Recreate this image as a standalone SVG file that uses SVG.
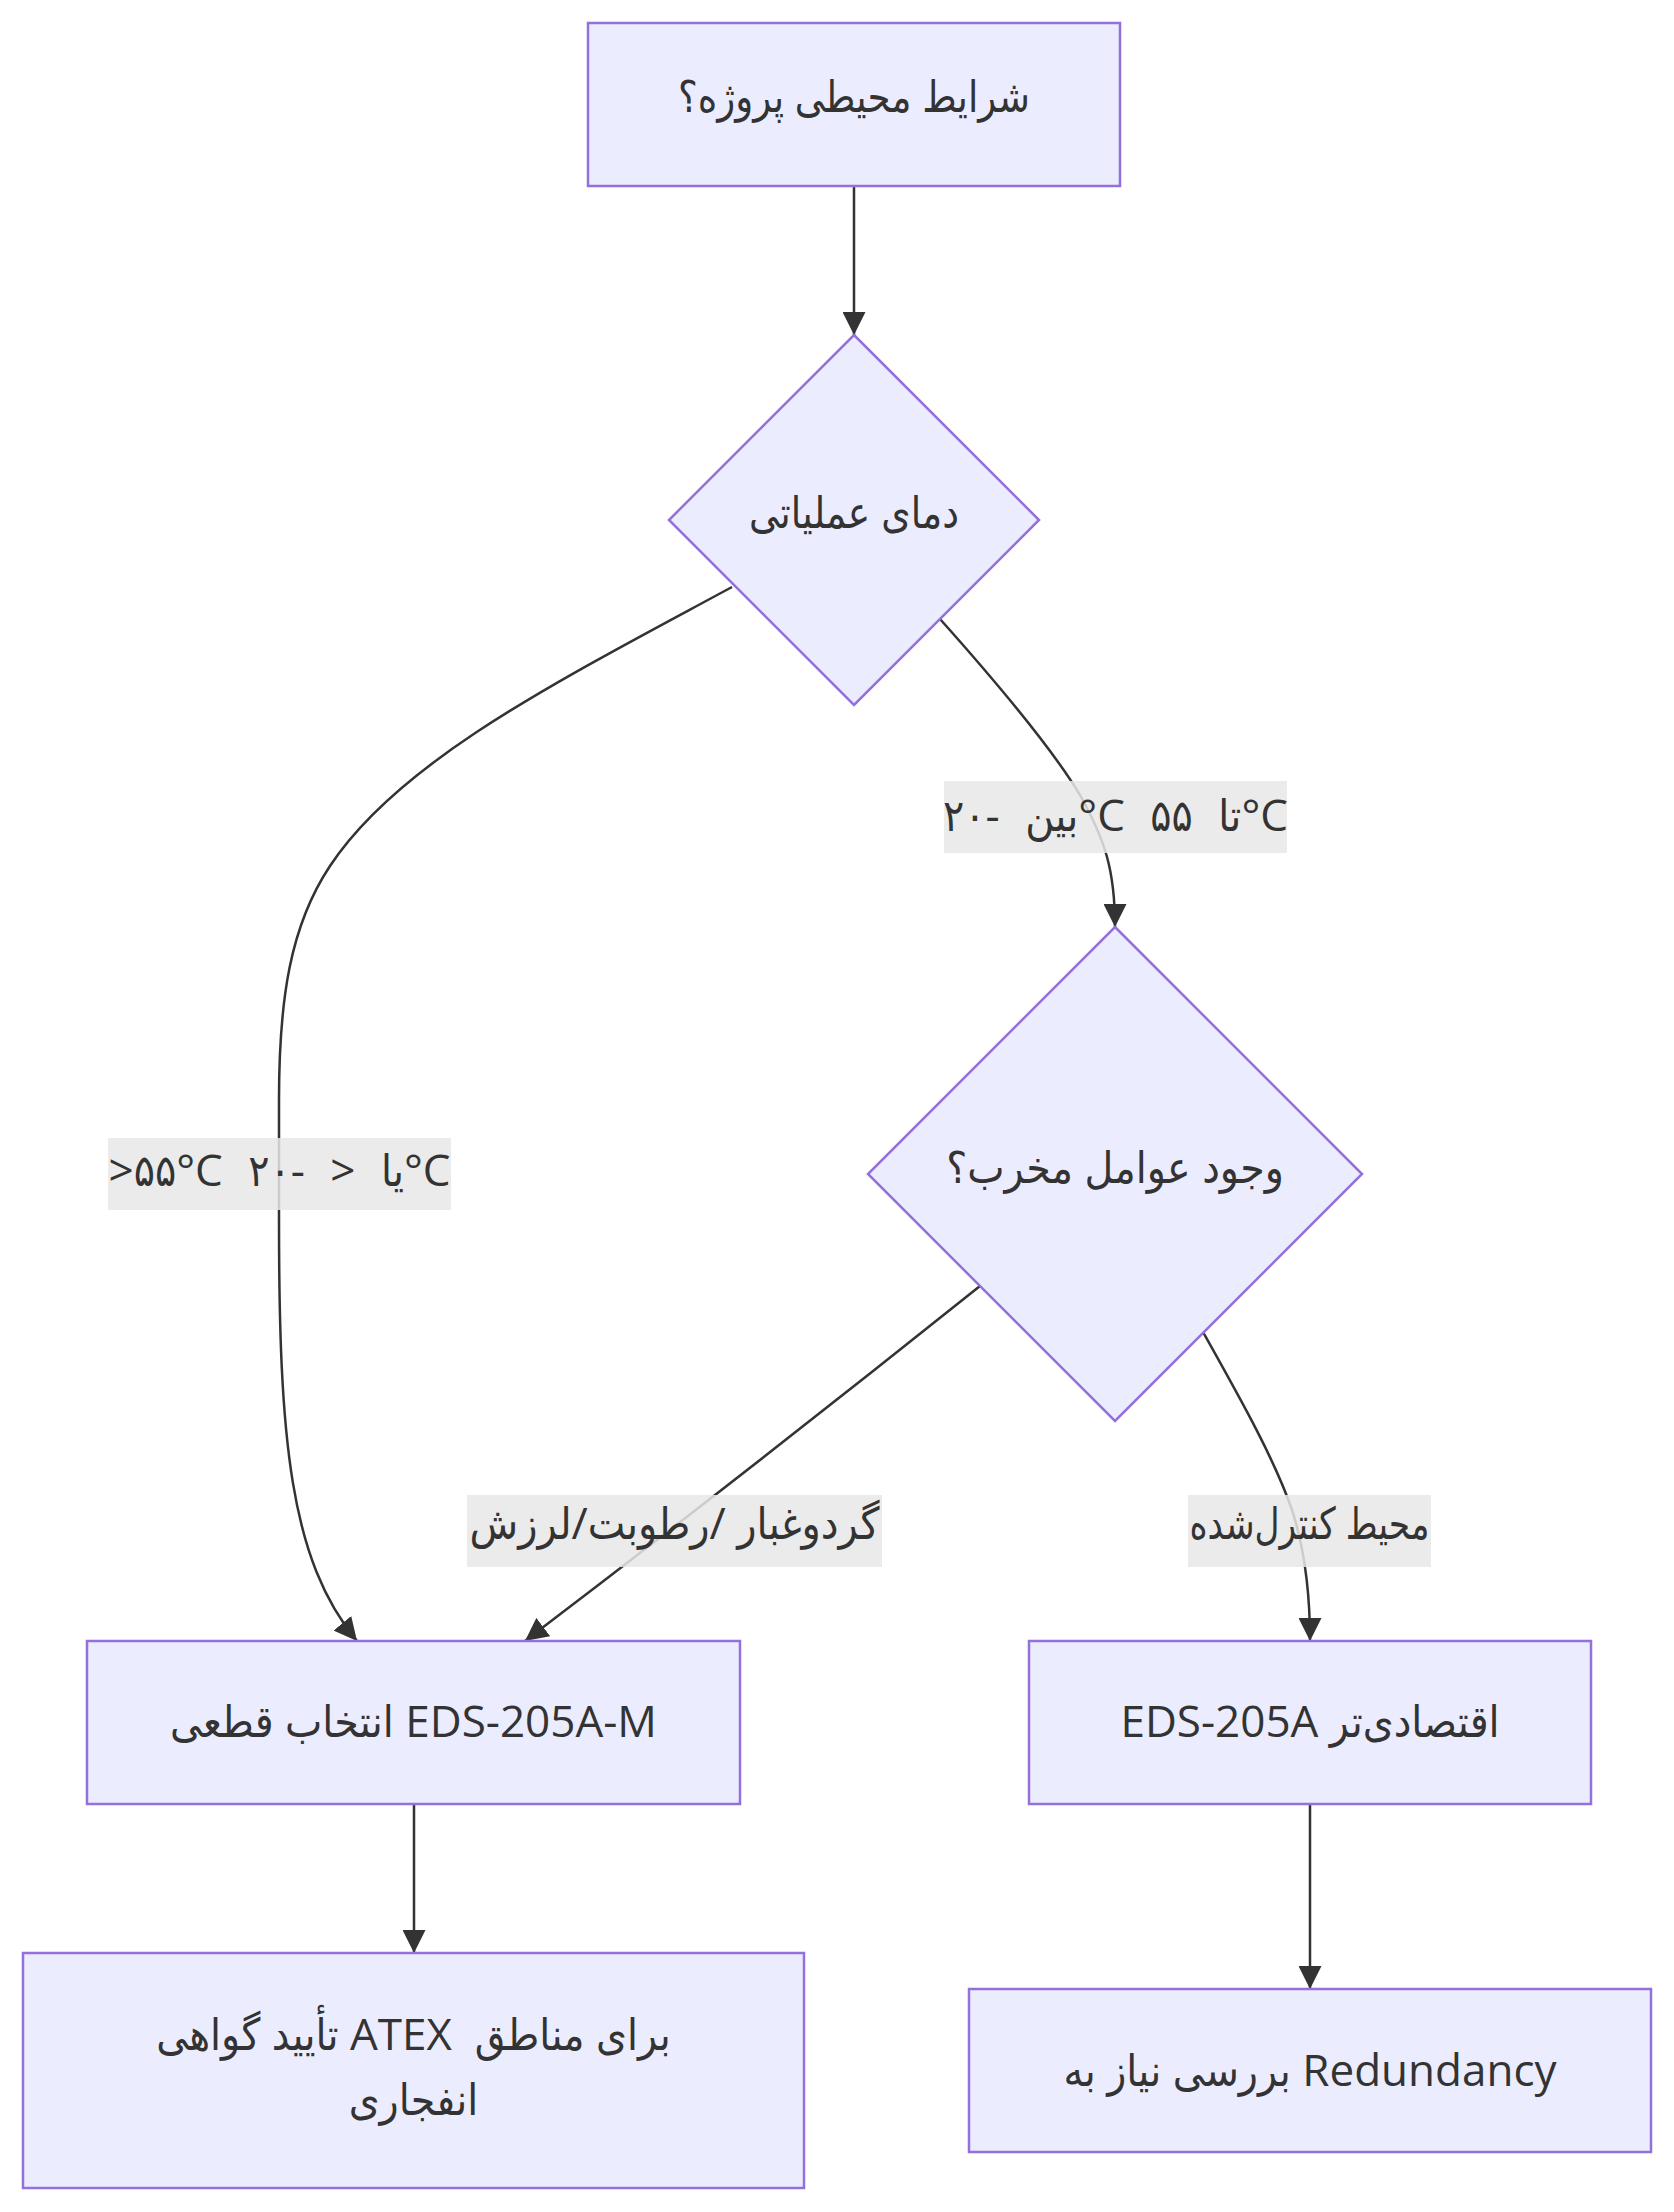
<svg xmlns="http://www.w3.org/2000/svg" width="1674" height="2212" viewBox="0 0 1674 2212">
<style>
.node rect,.node polygon{fill:#ECECFF;stroke:#9370DB;stroke-width:2.5}
.edge{fill:none;stroke:#333333;stroke-width:2.5;marker-end:url(#arrow)}
.lbg{fill:#e8e8e8;fill-opacity:0.85}
text{font-family:"Open Sans","DejaVu Sans Condensed","DejaVu Sans",sans-serif;font-size:44px;fill:#333333;text-anchor:middle}
.ws{word-spacing:14px}
</style>
<defs>
<marker id="arrow" viewBox="0 0 10 10" refX="10" refY="5" markerUnits="userSpaceOnUse" markerWidth="23" markerHeight="23" orient="auto">
<path d="M0,0 L10,5 L0,10 z" fill="#333333"/>
</marker>
</defs>
<rect width="1674" height="2212" fill="#ffffff"/>
<g id="connectors">
<path class="edge" d="M854,186 L854,335"/>
<path class="edge" d="M732,587 C560,680 400,760 330,866 C290,926 279,1000 279,1100 L279,1220 C279,1440 290,1560 357,1641"/>
<path class="edge" d="M940,619 C990,675 1050,745 1080,795 C1105,840 1115,870 1115,927"/>
<path class="edge" d="M980,1286 C850,1390 700,1508 525,1641"/>
<path class="edge" d="M1203,1332 C1240,1398 1275,1460 1292,1510 C1305,1550 1310,1590 1310,1641"/>
<path class="edge" d="M414,1804 L414,1953"/>
<path class="edge" d="M1310,1804 L1310,1989"/>
</g>
<g id="edge-labels">
<g id="label-extreme">
<rect class="lbg" x="108" y="1138" width="343" height="72"/>
<text class="ws" x="279.5" y="1186">&gt;۵۵°C یا &lt; -۲۰°C</text>
</g>
<g id="label-normal">
<rect class="lbg" x="944" y="781" width="343" height="72"/>
<text class="ws" x="1115.5" y="831">بین -۲۰°C تا ۵۵°C</text>
</g>
<g id="label-harsh">
<rect class="lbg" x="467" y="1495" width="415" height="72"/>
<text x="674.5" y="1539" textLength="410" lengthAdjust="spacingAndGlyphs">گردوغبار /رطوبت/لرزش</text>
</g>
<g id="label-controlled">
<rect class="lbg" x="1188" y="1495" width="243" height="72"/>
<text x="1309.5" y="1539" textLength="240" lengthAdjust="spacingAndGlyphs">محیط کنترل‌شده</text>
</g>
</g>
<g id="node-start" class="node">
<rect x="588" y="23" width="532" height="163"/>
<text x="854" y="112" textLength="352" lengthAdjust="spacingAndGlyphs">شرایط محیطی پروژه؟</text>
</g>
<g id="node-temp" class="node">
<polygon points="854,335 1039,520 854,705 669,520"/>
<text x="854" y="528" textLength="210" lengthAdjust="spacingAndGlyphs">دمای عملیاتی</text>
</g>
<g id="node-harsh" class="node">
<polygon points="1115,927 1362,1174 1115,1421 868,1174"/>
<text x="1115" y="1183">وجود عوامل مخرب؟</text>
</g>
<g id="node-eds205am" class="node">
<rect x="87" y="1641" width="653" height="163"/>
<text x="413.5" y="1737">انتخاب قطعی EDS-205A-M</text>
</g>
<g id="node-eds205a" class="node">
<rect x="1029" y="1641" width="562" height="163"/>
<text x="1310" y="1737">EDS-205A اقتصادی‌تر</text>
</g>
<g id="node-atex" class="node">
<rect x="23" y="1953" width="781" height="235"/>
<text x="413.5" y="2050" xml:space="preserve">تأیید گواهی ATEX  برای مناطق</text>
<text x="413.5" y="2115">انفجاری</text>
</g>
<g id="node-redundancy" class="node">
<rect x="969" y="1989" width="682" height="163"/>
<text x="1310" y="2086">بررسی نیاز به Redundancy</text>
</g>
</svg>
